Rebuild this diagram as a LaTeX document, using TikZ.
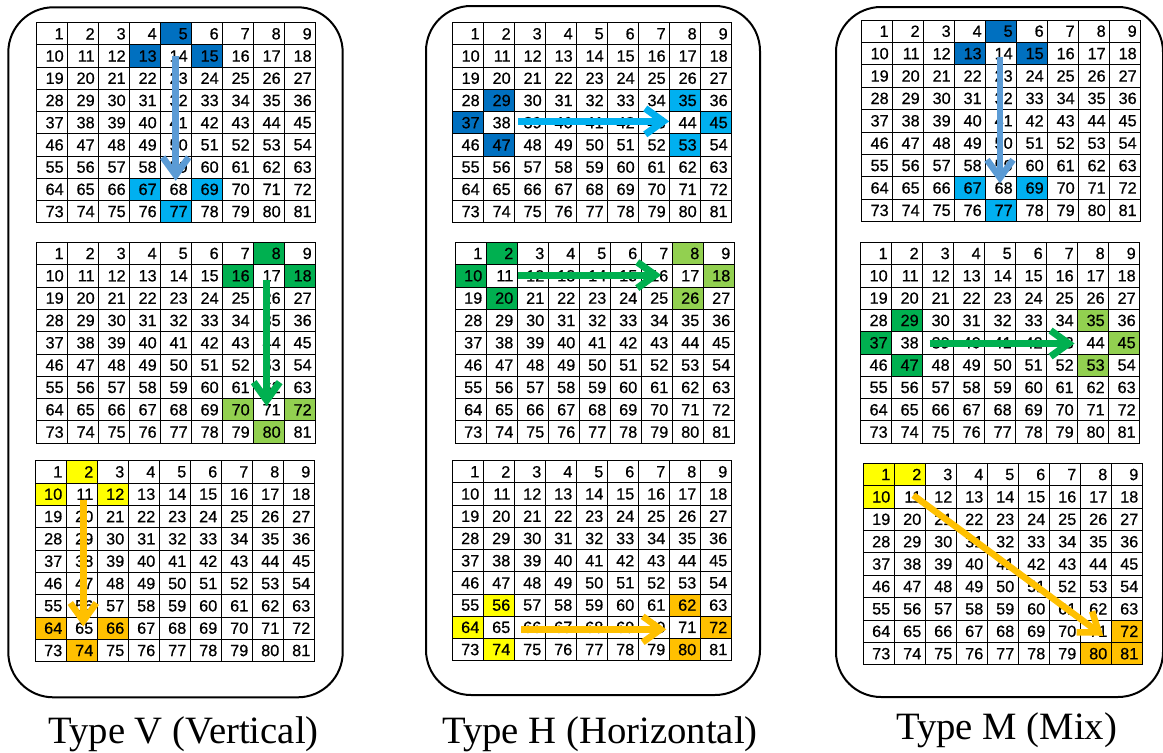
\documentclass[tikz,border=0pt]{standalone}
\usepackage{fontspec}
\setmainfont{Liberation Serif}
\newfontfamily\cellfont[FakeBold=0.6]{Liberation Sans}
\usetikzlibrary{arrows.meta,calc}
\definecolor{dkblue}{HTML}{0070C0}
\definecolor{ltblue}{HTML}{00B0F0}
\definecolor{dkgreen}{HTML}{00B050}
\definecolor{ltgreen}{HTML}{92D050}
\definecolor{cellyellow}{HTML}{FFFF00}
\definecolor{cellorange}{HTML}{FFC000}
\definecolor{arrsteel}{HTML}{5B9BD5}
\definecolor{arrcyan}{HTML}{00B0F0}
\definecolor{arrgreen}{HTML}{00B050}
\definecolor{arrorange}{HTML}{FFC000}
\makeatletter
\newcommand\pickcol[5]{%
  \edef\tmp@a{\noexpand\in@{,#1,}{,#2,}}\tmp@a
  \ifin@ \def\cellcol{#4}\else
    \edef\tmp@a{\noexpand\in@{,#1,}{,#3,}}\tmp@a
    \ifin@ \def\cellcol{#5}\else \def\cellcol{white}\fi
  \fi}
\makeatother
\newcommand\numgrid[8]{%
  \foreach \r in {0,...,8}{\foreach \c in {0,...,8}{%
    \pgfmathtruncatemacro\n{\r*9+\c+1}%
    \pickcol{\n}{#5}{#6}{#7}{#8}%
    \node[cell, fill=\cellcol, minimum height=#4] (#1-\n) at ({#2+(\c+0.5)*31},{#3+(\r+0.5)*#4}) {\n};
  }}}
\tikzset{
  cell/.style={rectangle, draw=black, line width=0.9pt, minimum width=31pt,
    inner sep=0pt, text width=23pt, align=right,
    font=\cellfont\fontsize{16.3}{16}\selectfont},
  panel/.style={draw=black, line width=2pt, rounded corners=45pt, fill=white},
  arr/.style={line width=6.5pt, -{Straight Barb[length=18pt,width=26pt]}},
  typelabel/.style={anchor=base, inner sep=0pt, font=\fontsize{38.7}{40}\selectfont}
}
\begin{document}
\begin{tikzpicture}[x=1pt,y=-1pt]
\useasboundingbox (0,0) rectangle (1163,753);
\fill[white] (0,0) rectangle (1163,753);
% panels
\draw[panel] (8.3,7.3) rectangle (342.7,697.3);
\draw[panel] (426,6) rectangle (760,695);
\draw[panel] (836,7) rectangle (1163,697);
% grids
\numgrid{V1}{36.7}{22.7}{22.22}{5,13,15}{67,69,77}{dkblue}{ltblue}
\numgrid{V2}{36.7}{242.3}{22.33}{8,16,18}{70,72,80}{dkgreen}{ltgreen}
\numgrid{V3}{35.3}{460.7}{22.33}{2,10,12}{64,66,74}{cellyellow}{cellorange}
\numgrid{H1}{452.7}{22.7}{22.22}{29,37,47}{35,45,53}{dkblue}{ltblue}
\numgrid{H2}{455.3}{242.3}{22.33}{2,10,20}{8,18,26}{dkgreen}{ltgreen}
\numgrid{H3}{452.3}{460.7}{22.22}{56,64,74}{62,72,80}{cellyellow}{cellorange}
\numgrid{M1}{861.7}{20}{22.4}{5,13,15}{67,69,77}{dkblue}{ltblue}
\numgrid{M2}{860.7}{242.3}{22.33}{29,37,47}{35,45,53}{dkgreen}{ltgreen}
\numgrid{M3}{863.3}{463.3}{22.4}{1,2,10}{72,80,81}{cellyellow}{cellorange}
% arrows
\draw[arr, draw=arrsteel] ($(V1-14.center)+(-0.5,0)$) -- ($(V1-68.north)+(-0.5,3)$);
\draw[arr, draw=arrgreen, line width=7pt] ($(V2-17.center)+(-2.5,4)$) -- ($(V2-71.north)+(-2.5,8)$);
\draw[arr, draw=arrorange] ($(V3-11.center)+(1.5,6)$) -- ($(V3-65.north)+(1.5,10)$);
\draw[arr, draw=arrcyan, line width=7pt] ($(H1-39.west)+(3.6,-1.3)$) -- ($(H1-44.west)+(0,-1.3)$);
\draw[arr, draw=arrgreen, line width=7pt] ($(H2-12.west)+(1,-0.7)$) -- ($(H2-17.west)+(-10.6,-0.7)$);
\draw[arr, draw=arrorange] ($(H3-66.west)+(7.4,2)$) -- ($(H3-71.west)+(-2.6,2)$);
\draw[arr, draw=arrsteel] ($(M1-14.center)+(-1.2,3)$) -- ($(M1-68.north)+(-1.2,7)$);
\draw[arr, draw=arrgreen, line width=7pt] ($(M2-39.west)+(7.3,0.7)$) -- ($(M2-44.west)+(-2.7,0.7)$);
\draw[arr, draw=arrorange] ($(M3-11.center)+(3.5,-1.7)$) -- ($(M3-71.center)+(7.5,4.5)$);
% labels
\node[typelabel] (labV) at (183.5,743) {Type V (Vertical)};
\node[typelabel] (labH) at (600,743) {Type H (Horizontal)};
\node[typelabel] (labM) at (1006.7,739.5) {Type M (Mix)};
\end{tikzpicture}
\end{document}
